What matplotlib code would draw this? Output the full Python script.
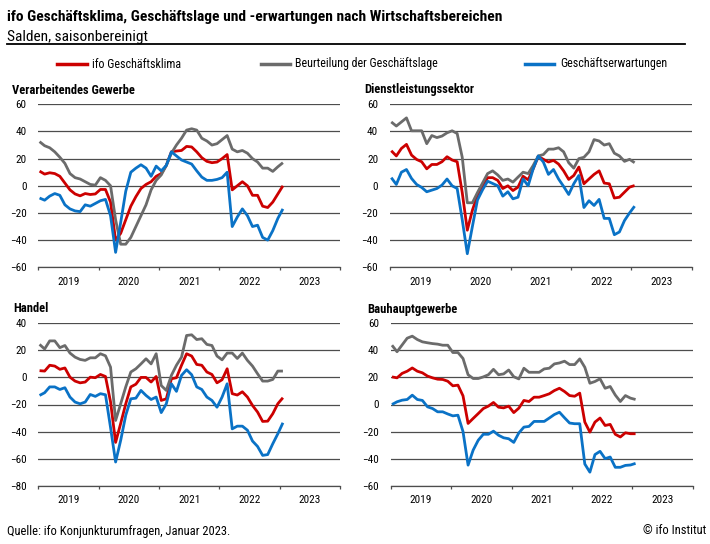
import numpy as np
import matplotlib
matplotlib.use('Agg')
import matplotlib.pyplot as plt
from matplotlib import font_manager
from matplotlib.lines import Line2D

avail = {f.name for f in font_manager.fontManager.ttflist}
FONT = 'DejaVu Sans'
for cand in ['Liberation Sans Narrow', 'Roboto Condensed', 'Open Sans Condensed', 'Lato', 'Noto Sans', 'DejaVu Sans']:
    if cand in avail:
        FONT = cand
        break
plt.rcParams['font.family'] = [FONT, 'DejaVu Sans']

# ---------------- data (monthly, Jan 2019 .. Jan 2023) ----------------
months = np.arange(49)
years = ['2019', '2020', '2021', '2022', '2023']
series_names = ['ifo Geschäftsklima', 'Beurteilung der Geschäftslage', 'Geschäftserwartungen']

vg_klima = [10.8, 8.6, 9.6, 9, 7, 2, -3, -6, -7.4, -5.7, -6.4, -6, -2.7, -2.7, -12, -40, -35, -25, -15, -8, -2, 1, 3, 7,
            9, 15, 25, 25.6, 26, 29, 28.6, 25, 20.7, 18, 17, 17.5, 20, 23, -3, 0, 3, 0, -7, -7, -15, -16, -12, -6, 0]
vg_lage = [32.5, 29.5, 28, 25, 21, 16.5, 9, 6, 5, 3, 1, 0.5, 6, 4, 0, -25, -43, -43, -38, -30, -22, -14, -3, 4,
           8, 15, 24, 30, 35, 41, 42, 41, 35, 33, 30, 31, 34, 37, 27, 25, 26, 24, 20, 17.5, 13, 13, 10.6, 14, 17]
vg_erw = [-9, -10.6, -7.6, -5.7, -7, -14, -17, -18.5, -19, -14, -15, -13, -11, -10, -22, -49, -27, -4, 10, 13, 15.5, 13, 7, 14.5,
          11, 15, 25, 22, 19, 17.5, 16, 11, 6.4, 4, 4, 4.7, 6, 10, -30, -23, -17, -22, -30, -29, -38, -40, -33, -24, -17]

dl_klima = [25.8, 22, 27.5, 30.5, 22.6, 19.4, 17.7, 12.5, 15.7, 15.7, 17.7, 21.4, 19, 17.7, -5, -32.7, -18, -7, -1, 6, 6, 4, -2, 0, -3.5,
            -1, 7, 4.4, 12.6, 21.7, 19.5, 17.5, 18.7, 16, 11, 4.7, 7.6, 13.8, 1.5, 5, 8.4, 11, 2, 1.5, -9, -8.4, -4.7, -1, 0.2]
dl_lage = [47, 44, 47, 50, 40.5, 40.5, 40.5, 31, 37, 35.5, 36.6, 39, 40.5, 38.5, 21, -12.5, -12.5, -5, 2, 9, 11, 8, 4, 5, 2.7,
           6.4, 10, 9, 15, 22, 23, 27, 27, 28, 25, 17, 13, 20, 21, 25, 34, 33, 30, 31, 24, 22, 18, 19.5, 17]
dl_erw = [6, 1, 10, 12, 5.4, 1, -1.2, -4.4, -3.2, -2, 0.5, 5, 0, -2, -25, -50, -30, -10.5, -3, 3.4, 1.7, 0, -7.6, -4.4, -9.6,
          -8.4, 5, 0, 12.6, 22, 17.5, 8.4, 12, 5, -0.5, -6.4, 1.5, 7.6, -16, -11, -14.5, -10, -24, -24, -36, -34, -25.6, -20, -15]

ha_klima = [5, 4.7, 9, 8.4, 6, 7, 0.2, -2.7, -4, -3.4, 0.2, -0.2, 2.2, 0.7, -18, -48, -34, -19.5, -7, -5, 0, 0, -3.4, 0.7,
            -17, -15.8, -1, -0.2, 9, 17.5, 15.8, 9.6, 9, 4, 2.2, -4, -1.7, 6.4, -12, -13, -10.6, -14.5, -20.7, -25.6, -32.5, -32.3, -26.8, -19.4, -15]
ha_lage = [24.4, 21, 27, 27, 22, 23.6, 18, 15, 13.3, 12.6, 14.5, 14.5, 17.5, 16, 7.6, -31.8, -19.5, -7, 4, 6.4, 10, 13.8, 10, 17.5,
           -6, -9.6, 1.5, 9, 15, 31, 31.5, 28, 28.6, 24.4, 23.6, 15.8, 13, 18, 18, 14, 18, 12.6, 8.4, 2.7, -2.7, -2.7, -1.5, 4.7, 4.7]
ha_erw = [-13.3, -11.3, -7, -7, -8.9, -7.6, -14.5, -18.2, -19.5, -18.2, -12.6, -14, -12, -12.8, -37, -62.5, -46.5, -28, -15.8, -15.3, -9.6, -13.3, -16.3, -14.5,
          -26, -19.5, -4.7, -10.3, 1.5, 5.7, 2, -7, -8.9, -14.5, -17, -22, -14.5, -4.7, -38, -36, -36, -39, -47, -51, -57.6, -57, -49, -41.6, -33.5]

bau_klima = [20.4, 19.7, 23, 24.6, 27, 24.6, 23.4, 21, 19.7, 18.7, 18.5, 17.2, 13.8, 14.3, 6.4, -14, -10.3, -6.7, -3, -1.2, 1.5,
             -2, -2.5, -1.2, -6, -2.7, 3, 2.2, 5.4, 5.4, 6.6, 7.9, 10.3, 12, 9.6, 6.6, 6.1, 8.4, -13, -20.4, -13, -10, -15.5, -14.7, -22, -24, -20.9, -21.6, -21.6]
bau_lage = [43.8, 39, 44, 49, 50.5, 48, 46.3, 45.6, 45, 44.6, 43.8, 43.8, 38.4, 38.4, 34, 22, 19.2, 19.2, 20.4, 22, 26,
            22, 22.6, 25.5, 20.5, 18.9, 26.8, 23.8, 23.8, 23.8, 26.3, 26.8, 30, 30.7, 32, 29.5, 29.5, 33.7, 27.5, 15.7, 17, 19, 12, 13.3, 7, 2.2, 6.6, 4.7, 3.7]
bau_erw = [0, 2, 3.2, 3.7, 6.9, 3.7, 3, -1.7, -3, -5.4, -5.4, -7, -8.4, -7.9, -20, -44.8, -33.7, -26.4, -22, -22, -19.7,
           -22.7, -24.6, -25.3, -28, -21, -16.7, -16.2, -12.5, -12.5, -12.5, -10, -7.4, -5.7, -9.8, -13.7, -14.2, -14.2, -44, -50, -37, -34.6, -40, -38.8, -46.4, -46.4, -45, -44.7, -43.5]

panel_titles = ['Verarbeitendes Gewerbe', 'Dienstleistungssektor', 'Handel', 'Bauhauptgewerbe']
panel_data = [(vg_klima, vg_lage, vg_erw), (dl_klima, dl_lage, dl_erw),
              (ha_klima, ha_lage, ha_erw), (bau_klima, bau_lage, bau_erw)]
panel_ylims = [(-60, 60), (-60, 60), (-80, 40), (-60, 60)]

# ---------------- styling ----------------
COLORS = ['#cc0000', '#6b6b6b', '#0a72c6']
GRID = '#4d4d4d'
W, H = 710, 544

fig = plt.figure(figsize=(W / 100, H / 100), dpi=100)
fig.patch.set_facecolor('white')


def fx(px):
    return px / W


def fy(py):
    return 1 - py / H


rects = [(38.3, 104.3, 340.0, 267.3), (390.0, 104.3, 691.7, 267.3),
         (38.3, 323.3, 340.0, 485.7), (390.7, 323.3, 692.7, 485.7)]
title_pos = [(12, 90), (364, 90), (13, 309), (367, 309)]

fig.canvas.draw()
renderer = fig.canvas.get_renderer()


def fit_size(s, target, weight='normal'):
    tmp = fig.text(0, 0, s, fontsize=10, fontweight=weight)
    w = tmp.get_window_extent(renderer).width
    tmp.remove()
    return 10 * target / w


TICK_FS = fit_size('2019', 22)
PTITLE_FS = fit_size('Verarbeitendes Gewerbe', 123, 'bold')
LEG_FS = fit_size('Beurteilung der Geschäftslage', 142)
FOOT_FS = fit_size('Quelle: ifo Konjunkturumfragen, Januar 2023.', 222)
TITLE_FS = fit_size('ifo Geschäftsklima, Geschäftslage und -erwartungen nach Wirtschaftsbereichen', 495, 'bold')
SUB_FS = fit_size('Salden, saisonbereinigt', 141)

x = 0.25 + months * 1.0083  # month positions on a 0..60 month axis

for k, (l, t, r, b) in enumerate(rects):
    ax = fig.add_axes([fx(l), fy(b), fx(r) - fx(l), fy(t) - fy(b)])
    klima, lage, erw = panel_data[k]
    for vals, c in zip((klima, lage, erw), COLORS):
        ax.plot(x, vals, color=c, lw=2.0, solid_joinstyle='round', solid_capstyle='butt', zorder=3)
    lo, hi = panel_ylims[k]
    ax.set_ylim(lo, hi)
    ax.set_xlim(0, 60)
    ax.set_yticks(np.arange(lo, hi + 1, 20))
    ax.yaxis.grid(True, color=GRID, lw=0.9)
    ax.set_axisbelow(True)
    for s in ['top', 'right', 'left']:
        ax.spines[s].set_visible(False)
    ax.spines['bottom'].set_color(GRID)
    ax.spines['bottom'].set_linewidth(0.9)
    ax.tick_params(axis='y', length=0, pad=8.5, labelsize=TICK_FS, colors='black')
    ax.set_xticks(np.arange(0, 61, 12))
    ax.set_xticklabels([])
    ax.tick_params(axis='x', which='major', length=2.5, width=0.9, color=GRID, direction='out')
    ax.set_xticks(np.arange(6, 60, 12), minor=True)
    ax.set_xticklabels(years, minor=True)
    ax.tick_params(axis='x', which='minor', length=0, pad=7, labelsize=TICK_FS)
    ax.set_facecolor('none')
    fig.text(fx(title_pos[k][0]), fy(title_pos[k][1]), panel_titles[k], fontsize=PTITLE_FS,
             fontweight='bold', ha='left', va='center')

# header
fig.text(fx(7), fy(17), 'ifo Geschäftsklima, Geschäftslage und -erwartungen nach Wirtschaftsbereichen',
         fontsize=TITLE_FS, fontweight='bold', ha='left', va='center')
fig.text(fx(7), fy(37), 'Salden, saisonbereinigt', fontsize=SUB_FS, ha='left', va='center')
fig.add_artist(Line2D([fx(7), fx(685)], [fy(44), fy(44)], color='black', lw=1.3))

# legend
leg_line = [(57, 87), (261, 290), (525, 554)]
leg_text_x = [92, 295, 560]
for (a, bb), tx, name, c in zip(leg_line, leg_text_x, series_names, COLORS):
    fig.add_artist(Line2D([fx(a), fx(bb)], [fy(64), fy(64)], color=c, lw=2.5))
    fig.text(fx(tx), fy(64), name, fontsize=LEG_FS, ha='left', va='center')

# footer
fig.text(fx(7), fy(531), 'Quelle: ifo Konjunkturumfragen, Januar 2023.', fontsize=FOOT_FS, ha='left', va='center')
fig.text(fx(706), fy(531), '© ifo Institut', fontsize=FOOT_FS, ha='right', va='center')

fig.savefig('out.png', dpi=100, facecolor='white')
